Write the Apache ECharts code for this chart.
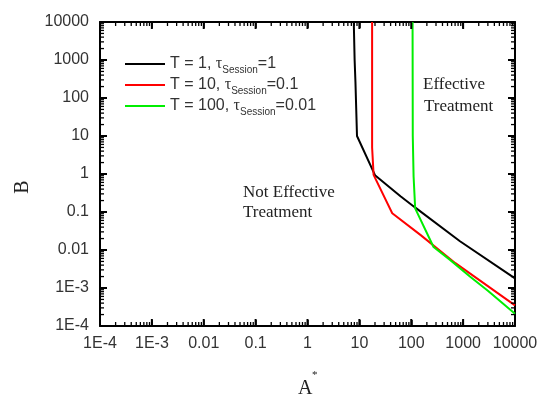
<!DOCTYPE html>
<html>
<head>
<meta charset="utf-8">
<script src="https://cdn.jsdelivr.net/npm/echarts@6/dist/echarts.min.js"></script>
<style>
  html, body { margin: 0; padding: 0; background: #fff; }
  #chart { width: 554px; height: 399px; }
</style>
</head>
<body>
<div id="chart"></div>
<script>
// curve data (A*, B)
const blackA = [7.8, 8.1, 8.4, 9.0, 20, 62, 120, 870, 10000];
const blackB = [10000, 1000, 265, 10, 0.93, 0.26, 0.13, 0.017, 0.0018];
const redA = [17.6, 17.6, 18.8, 43, 150, 710, 10000];
const redB = [10000, 5, 0.95, 0.093, 0.025, 0.0045, 0.00035];
const greenA = [106, 107, 111, 119, 269, 560, 1350, 3000, 10000];
const greenB = [10000, 10, 0.85, 0.125, 0.012, 0.0055, 0.002, 0.00085, 0.00021];

const tickLabels = ['1E-4', '1E-3', '0.01', '0.1', '1', '10', '100', '1000', '10000'];
const majorVals = [1e-4, 1e-3, 1e-2, 1e-1, 1, 10, 100, 1000, 10000];
const minorSteps = [2, 3, 4, 5, 6, 7, 8, 9];

const legendNames = ['T1', 'T10', 'T100'];
const legendText = {
  T1: '{t|T = 1, }{tau|τ}{sub|Session}{t|=1}',
  T10: '{t|T = 10, }{tau|τ}{sub|Session}{t|=0.1}',
  T100: '{t|T = 100, }{tau|τ}{sub|Session}{t|=0.01}'
};

const minorVals = [];
majorVals.slice(0, -1).forEach(d => minorSteps.forEach(m => minorVals.push(d * m)));

const pairs = (a, b) => a.map((v, i) => [v, b[i]]);

const chart = echarts.init(document.getElementById('chart'));

const lblFont = { fontFamily: 'Liberation Sans', fontSize: 16, color: '#333' };
const fmt = v => tickLabels[Math.round(Math.log10(v)) + 4];

function logAxis(pos, showLabel, margin) {
  return {
    type: 'log', logBase: 10, min: 1e-4, max: 1e4, interval: 1,
    position: pos,
    axisLine: { show: true, onZero: false, lineStyle: { color: '#000', width: 2 } },
    axisTick: { show: true, inside: true, length: 6, lineStyle: { color: '#000', width: 1.5 } },
    axisLabel: Object.assign({ show: showLabel, margin: margin, formatter: fmt }, lblFont),
    splitLine: { show: false },
    minorTick: { show: false }
  };
}

// tick marks on all four sides, placed through the axis scales
function tickSeries(isX, vals, len, w) {
  return {
    type: 'custom', silent: true, clip: false, z: 10,
    coordinateSystem: 'cartesian2d', xAxisIndex: 0, yAxisIndex: 0,
    encode: { x: 0, y: 1 },
    data: vals.map(v => isX ? [v, 1] : [1, v]),
    renderItem: (params, api) => {
      const v = isX ? api.value(0) : api.value(1);
      const p = api.coord(isX ? [v, 1e-4] : [1e-4, v]);
      const q = api.coord(isX ? [v, 1e4] : [1e4, v]);
      const st = { stroke: '#000', lineWidth: w };
      const a = isX ? { x1: p[0], y1: p[1], x2: p[0], y2: p[1] - len } : { x1: p[0], y1: p[1], x2: p[0] + len, y2: p[1] };
      const b = isX ? { x1: q[0], y1: q[1], x2: q[0], y2: q[1] + len } : { x1: q[0], y1: q[1], x2: q[0] - len, y2: q[1] };
      return { type: 'group', children: [
        { type: 'line', shape: a, style: st },
        { type: 'line', shape: b, style: st }
      ] };
    }
  };
}

const option = {
  animation: false,
  grid: { left: 100, right: 39, top: 22, bottom: 73 },
  xAxis: [logAxis('bottom', true, 10), logAxis('top', false, 8)],
  yAxis: [logAxis('left', true, 11), logAxis('right', false, 8)],
  legend: {
    data: legendNames,
    orient: 'vertical',
    left: 125, top: 56, padding: 0,
    icon: 'rect',
    itemWidth: 40, itemHeight: 2, itemGap: 2,
    formatter: n => legendText[n],
    textStyle: {
      rich: {
        t: { fontFamily: 'Liberation Sans', fontSize: 16, color: '#333', lineHeight: 22, verticalAlign: 'middle' },
        tau: { fontFamily: 'Liberation Serif', fontSize: 16, color: '#333', lineHeight: 22, verticalAlign: 'middle' },
        sub: { fontFamily: 'Liberation Sans', fontSize: 10, color: '#333', lineHeight: 10, verticalAlign: 'bottom' }
      }
    }
  },
  series: [
    { name: 'T1', type: 'line', data: pairs(blackA, blackB), symbol: 'none', color: '#000', lineStyle: { width: 2 } },
    { name: 'T10', type: 'line', data: pairs(redA, redB), symbol: 'none', color: '#ff0000', lineStyle: { width: 2 } },
    { name: 'T100', type: 'line', data: pairs(greenA, greenB), symbol: 'none', color: '#00ee00', lineStyle: { width: 2 } },
    tickSeries(true, majorVals, 7, 2),
    tickSeries(false, majorVals, 7, 2),
    tickSeries(true, minorVals, 4, 1.3),
    tickSeries(false, minorVals, 4, 1.3)
  ],
  graphic: [
    { type: 'text', x: 243, y: 193, style: { text: 'Not Effective', font: '17px "Liberation Serif"', fill: '#222', textVerticalAlign: 'middle' } },
    { type: 'text', x: 243, y: 213, style: { text: 'Treatment', font: '17px "Liberation Serif"', fill: '#222', textVerticalAlign: 'middle' } },
    { type: 'text', x: 423, y: 85, style: { text: 'Effective', font: '17px "Liberation Serif"', fill: '#222', textVerticalAlign: 'middle' } },
    { type: 'text', x: 424, y: 107, style: { text: 'Treatment', font: '17px "Liberation Serif"', fill: '#222', textVerticalAlign: 'middle' } },
    { type: 'text', x: 298, y: 389, style: { text: 'A', font: '20px "Liberation Serif"', fill: '#222', textVerticalAlign: 'middle' } },
    { type: 'text', x: 312, y: 375, style: { text: '*', font: '11px "Liberation Serif"', fill: '#222', textVerticalAlign: 'middle' } },
    { type: 'text', x: 23, y: 187, rotation: Math.PI / 2, style: { text: 'B', font: '20px "Liberation Serif"', fill: '#222', textAlign: 'center', textVerticalAlign: 'middle' } }
  ]
};

chart.setOption(option);
</script>
</body>
</html>
